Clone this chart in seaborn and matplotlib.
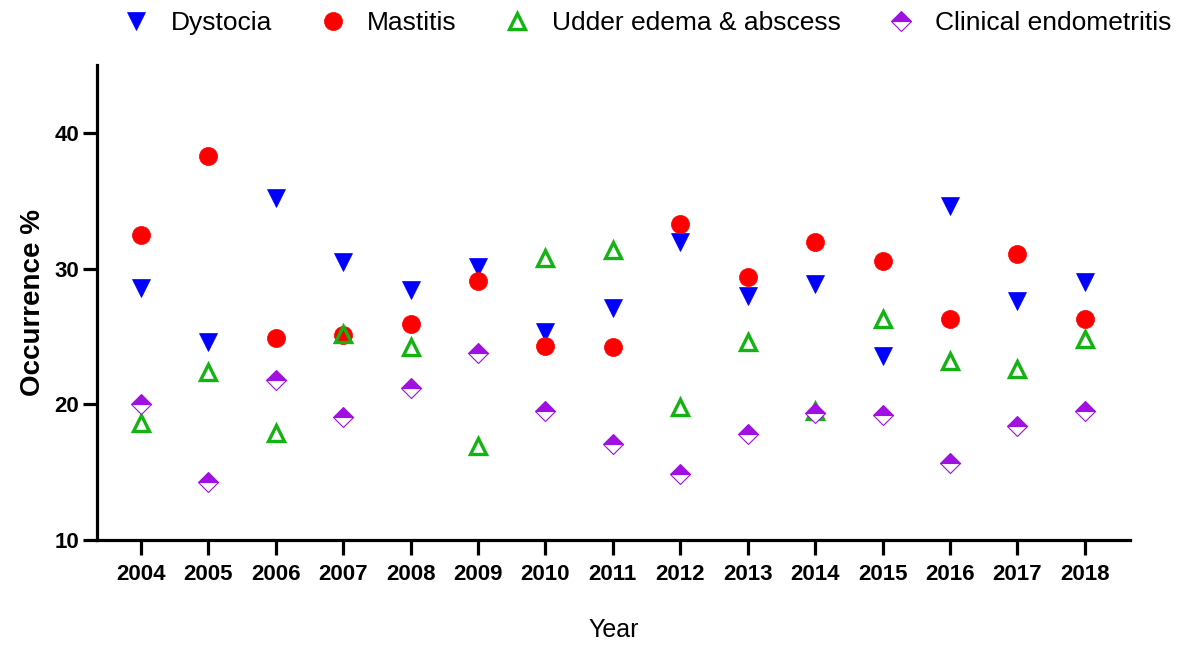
import matplotlib
matplotlib.use("Agg")
import matplotlib.pyplot as plt
import seaborn as sns
import pandas as pd

years = list(range(2004, 2019))
dystocia = [28.6, 24.6, 35.2, 30.5, 28.4, 30.1, 25.3, 27.1, 32.0, 28.0, 28.9, 23.6, 34.6, 27.6, 29.0]
mastitis = [32.5, 38.3, 24.9, 25.1, 25.9, 29.1, 24.3, 24.2, 33.3, 29.4, 32.0, 30.6, 26.3, 31.1, 26.3]
udder = [18.6, 22.4, 17.9, 25.2, 24.2, 16.9, 30.8, 31.4, 19.8, 24.6, 19.5, 26.3, 23.2, 22.6, 24.8]
endometritis = [20.0, 14.3, 21.8, 19.1, 21.2, 23.8, 19.5, 17.1, 14.9, 17.8, 19.4, 19.2, 15.7, 18.4, 19.5]

series_names = ["Dystocia", "Mastitis", "Udder edema & abscess", "Clinical endometritis"]
series_values = [dystocia, mastitis, udder, endometritis]

sns.set_style("ticks")
plt.rcParams['font.family'] = ['Liberation Sans', 'DejaVu Sans']
for key in ["text.color", "axes.edgecolor", "axes.labelcolor", "xtick.color", "ytick.color"]:
    plt.rcParams[key] = "black"

fig = plt.figure(figsize=(11.88, 6.46), dpi=100)
ax = fig.add_axes([0.0817, 0.164, 0.8695, 0.735])

styles = {
    "Dystocia": dict(marker="v", markersize=13, color="#0000FF", markeredgecolor="#0000FF",
                     markeredgewidth=0.5),
    "Mastitis": dict(marker="o", markersize=13, color="#FF0000", markeredgecolor="#FF0000",
                     markeredgewidth=0.5),
    "Udder edema & abscess": dict(marker="^", markersize=12, color="#12B312",
                                  markerfacecolor="none", markeredgecolor="#12B312",
                                  markeredgewidth=2.4),
    "Clinical endometritis": dict(marker="D", markersize=10.5, color="#A010E0",
                                  markeredgecolor="#A010E0", fillstyle="top",
                                  markerfacecoloralt="white", markeredgewidth=0.8),
}

for name, vals in zip(series_names, series_values):
    df = pd.DataFrame({"Year": years, "Occurrence": vals})
    sns.lineplot(data=df, x="Year", y="Occurrence", ax=ax, linestyle="", label=name,
                 **styles[name])

ax.set_xlim(2003.35, 2018.67)
ax.set_ylim(10, 45)
ax.set_xticks(years)
ax.set_yticks([10, 20, 30, 40])
sns.despine(ax=ax)
for side in ["left", "bottom"]:
    ax.spines[side].set_linewidth(2.3)
ax.tick_params(axis="both", width=2.3, labelsize=16)
ax.tick_params(axis="x", length=11, pad=6)
ax.tick_params(axis="y", length=10, pad=3)
for lbl in ax.get_xticklabels() + ax.get_yticklabels():
    lbl.set_fontweight("bold")

ax.set_xlabel("Year", fontsize=18, labelpad=24)
ax.set_ylabel("Occurrence %", fontsize=20, fontweight="bold", labelpad=6)

handles, labels = ax.get_legend_handles_labels()
ax.get_legend().remove()
fig.legend(handles, labels, loc="center", bbox_to_anchor=(0.545, 0.964), ncol=4,
           frameon=False, fontsize=19, handlelength=1.0, handletextpad=0.8,
           columnspacing=1.8)

fig.savefig("out.png", dpi=100)
